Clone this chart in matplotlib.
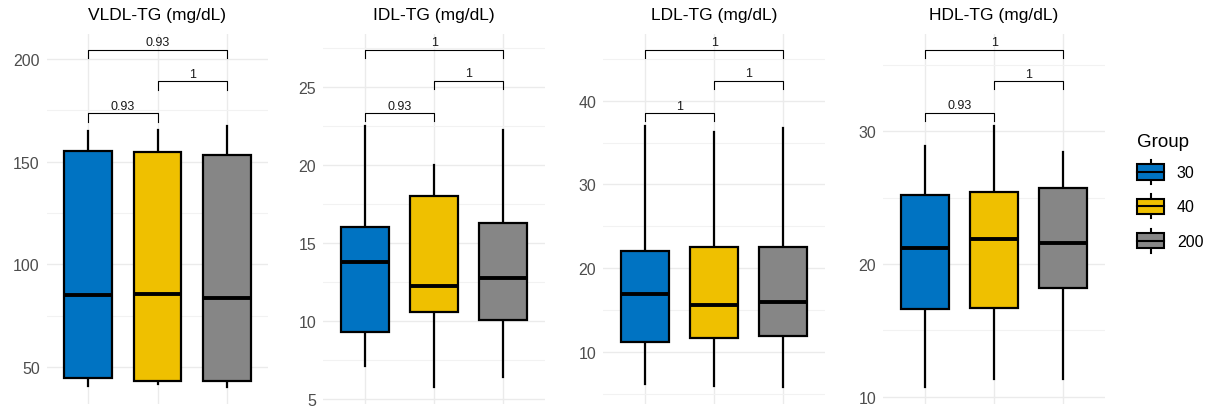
import matplotlib
matplotlib.use("Agg")
import matplotlib.pyplot as plt
from matplotlib.patches import Rectangle
from matplotlib.lines import Line2D
from matplotlib.legend_handler import HandlerBase
from matplotlib.ticker import MultipleLocator

plt.rcParams["font.family"] = ["Liberation Sans", "DejaVu Sans"]

groups = ["30", "40", "200"]
colors = ["#0073C2", "#EFC000", "#868686"]

titles = ["VLDL-TG (mg/dL)", "IDL-TG (mg/dL)", "LDL-TG (mg/dL)", "HDL-TG (mg/dL)"]

# per group: whisker low, q1, median, q3, whisker high
vldl_stats = [[40.8, 44.5, 85.0, 155.0, 165.1],
              [41.6, 43.2, 85.3, 154.8, 165.6],
              [40.0, 43.2, 83.4, 153.4, 167.2]]
idl_stats = [[7.13, 9.31, 13.81, 16.05, 22.5],
             [5.78, 10.6, 12.23, 18.04, 20.0],
             [6.39, 10.06, 12.74, 16.27, 22.26]]
ldl_stats = [[6.14, 11.12, 16.86, 22.07, 36.94],
             [5.94, 11.6, 15.58, 22.48, 36.3],
             [5.74, 11.84, 15.9, 22.48, 36.7]]
hdl_stats = [[10.75, 16.61, 21.18, 25.22, 28.92],
             [11.33, 16.66, 21.88, 25.45, 30.37],
             [11.33, 18.17, 21.58, 25.7, 28.47]]

# comparisons: 30 vs 40, 40 vs 200, 30 vs 200
pairs = [(1, 2), (2, 3), (1, 3)]
vldl_p = ["0.93", "1", "0.93"]
idl_p = ["0.93", "1", "1"]
ldl_p = ["1", "1", "1"]
hdl_p = ["0.93", "1", "1"]

vldl_bracket = [173.5, 189.1, 204.5]
idl_bracket = [23.35, 25.43, 27.41]
ldl_bracket = [38.53, 42.4, 46.1]
hdl_bracket = [31.38, 33.77, 36.15]

panels = [
    (vldl_stats, vldl_p, vldl_bracket, (31.9, 212.2), 50, 25),
    (idl_stats, idl_p, idl_bracket, (4.67, 28.42), 5, 2.5),
    (ldl_stats, ldl_p, ldl_bracket, (3.75, 47.97), 10, 5),
    (hdl_stats, hdl_p, hdl_bracket, (9.45, 37.33), 10, 5),
]

W, H = 1215, 410
fig = plt.figure(figsize=(W / 100, H / 100), dpi=100)

lefts = [46.7, 323.3, 603.3, 883.3]
for i, (stats, pvals, bracket, ylim, major, minor) in enumerate(panels):
    ax = fig.add_axes([lefts[i] / W, 5 / H, 221.6 / W, 370 / H])
    bx = [dict(whislo=s[0], q1=s[1], med=s[2], q3=s[3], whishi=s[4], label=g)
          for s, g in zip(stats, groups)]
    res = ax.bxp(bx, positions=[1, 2, 3], widths=0.69, patch_artist=True,
                 showfliers=False, showcaps=False,
                 boxprops=dict(linewidth=1.6, edgecolor="black"),
                 medianprops=dict(color="black", linewidth=2.8),
                 whiskerprops=dict(color="black", linewidth=1.6))
    for box, c in zip(res["boxes"], colors):
        box.set_facecolor(c)
        box.set_zorder(3)
    for m in res["medians"]:
        m.set_zorder(4)

    ax.set_xlim(0.4, 3.6)
    ax.set_ylim(*ylim)
    ax.yaxis.set_major_locator(MultipleLocator(major))
    ax.yaxis.set_minor_locator(MultipleLocator(minor))
    ax.set_xticks([1, 2, 3])
    ax.set_xticklabels([])
    ax.tick_params(axis="both", which="both", length=0)
    ax.tick_params(axis="y", labelsize=11.5, labelcolor="#4D4D4D", pad=5)
    ax.grid(True, which="major", color="#EBEBEB", linewidth=1.0, zorder=0)
    ax.grid(True, which="minor", axis="y", color="#F2F2F2", linewidth=0.8, zorder=0)
    ax.set_axisbelow(True)
    for sp in ax.spines.values():
        sp.set_visible(False)
    ax.set_title(titles[i], fontsize=12.5, color="black", pad=11)

    tip = 0.022 * (ylim[1] - ylim[0])
    for (a, b), p, yb in zip(pairs, pvals, bracket):
        ax.plot([a, a, b, b], [yb - tip, yb, yb, yb - tip], color="black",
                linewidth=0.8, zorder=5)
        ax.text((a + b) / 2, yb + 0.004 * (ylim[1] - ylim[0]), p, ha="center",
                va="bottom", fontsize=9, color="#1A1A1A")


class BoxKey(HandlerBase):
    def create_artists(self, legend, orig_handle, xdescent, ydescent, width,
                       height, fontsize, trans):
        x0, y0 = -xdescent, -ydescent
        cx = x0 + width / 2
        bh = height * 0.65
        by = y0 + (height - bh) / 2
        rect = Rectangle((x0, by), width, bh, facecolor=orig_handle.get_facecolor(),
                         edgecolor="black", linewidth=1.5, transform=trans)
        med = Line2D([x0, x0 + width], [y0 + height / 2] * 2, color="black",
                     linewidth=1.5, transform=trans)
        w1 = Line2D([cx, cx], [y0, by], color="black", linewidth=1.5, transform=trans)
        w2 = Line2D([cx, cx], [by + bh, y0 + height], color="black", linewidth=1.5,
                    transform=trans)
        return [w1, w2, rect, med]


handles = [Rectangle((0, 0), 1, 1, facecolor=c) for c in colors]
fig.legend(handles, groups, title="Group", loc="upper left",
           bbox_to_anchor=(1137 / W, 1 - 134 / H), frameon=False,
           handler_map={Rectangle: BoxKey()}, fontsize=11.5, title_fontsize=13.5,
           handlelength=1.7, handleheight=1.95, labelspacing=0.63,
           handletextpad=0.8, borderpad=0, borderaxespad=0, alignment="left")
fig.legends[0]._legend_handle_box.sep = 19

fig.savefig("out.png", dpi=100)
